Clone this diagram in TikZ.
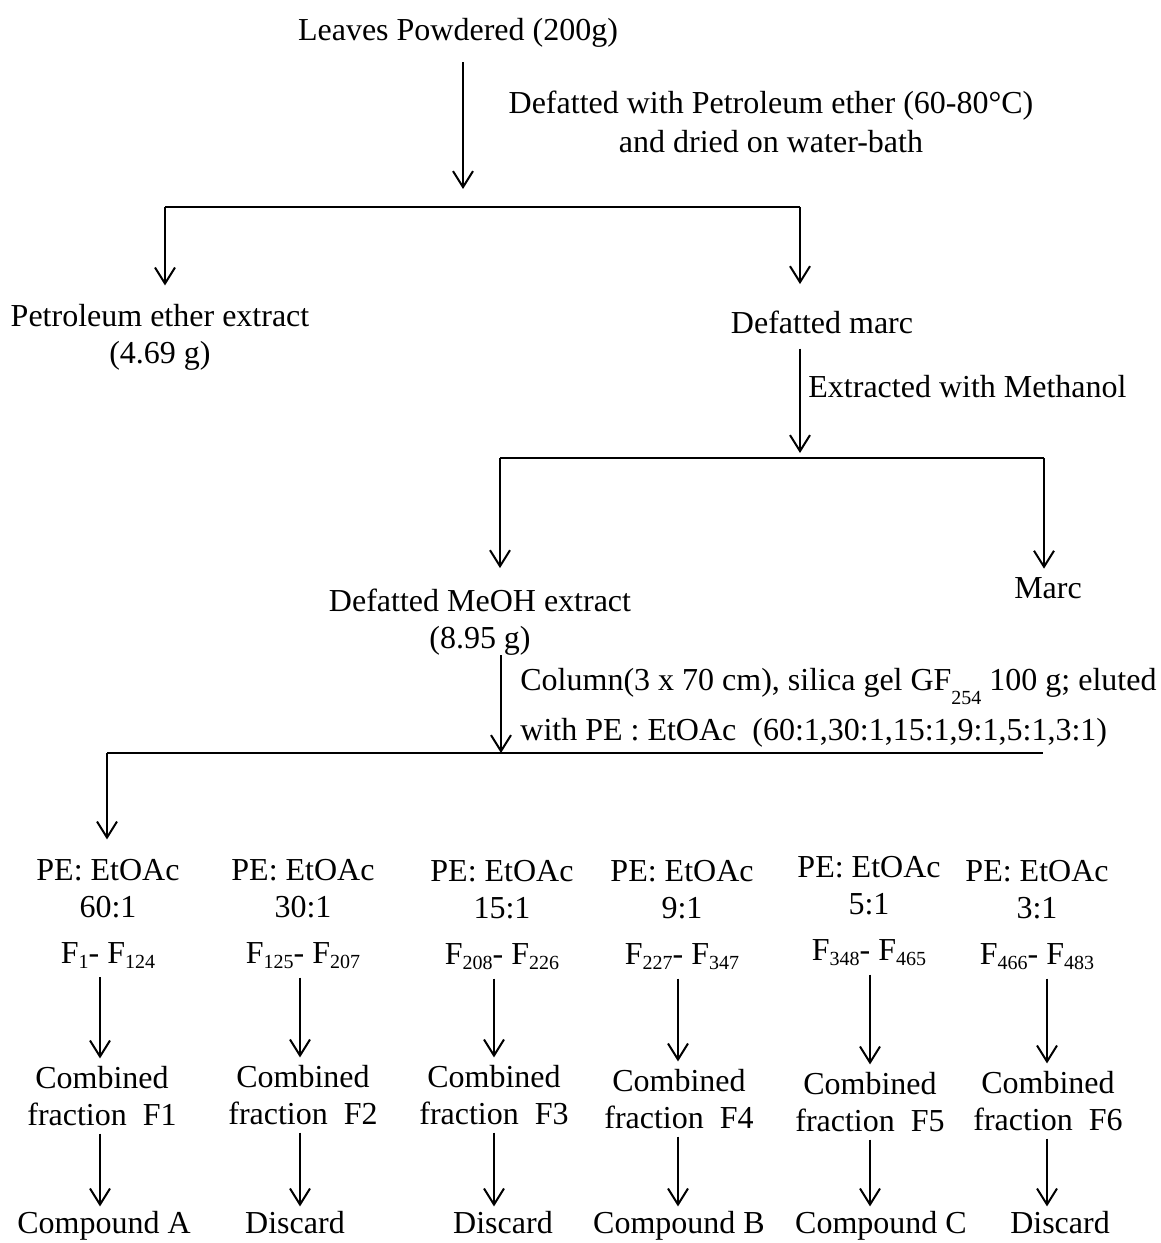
\documentclass[tikz,border=0pt]{standalone}
\usepackage{fontspec}
\setmainfont{Liberation Serif}
\usetikzlibrary{arrows.meta,positioning}
\tikzset{
  stage/.style={align=center,inner sep=0pt,anchor=base,font=\fontsize{16}{18.5}\selectfont},
  note/.style={align=left,inner sep=0pt,anchor=base west,font=\fontsize{16}{25}\selectfont},
  flow/.style={-{Straight Barb[length=8pt,width=10pt]},line width=1pt},
  rail/.style={line width=1pt}
}
\newcommand{\fsub}[1]{\raisebox{-2.5pt}{\fontsize{10}{10}\selectfont #1}}
\newcommand{\gfsub}[1]{\raisebox{-7pt}{\fontsize{10}{10}\selectfont #1}}

\begin{document}
\begin{tikzpicture}[x=0.5pt,y=-0.5pt]
  \useasboundingbox (0,0) rectangle (1161,1243);
  % extraction
  \node[stage] (leaves) at (458,40) {Leaves Powdered (200g)};
  \node[stage,font=\fontsize{16}{19.5}\selectfont] (defat) at (771,152) {Defatted with Petroleum ether (60-80°C)\\and dried on water-bath};
  \node[stage] (petext) at (160,363) {Petroleum ether extract\\(4.69 g)};
  \node[stage] (dmarc) at (822,333) {Defatted marc};
  \node[note] (meth) at (808,397) {Extracted with Methanol};
  \node[stage] (meoh) at (480,648) {Defatted MeOH extract\\(8.95 g)};
  \node[stage] (marc) at (1048,598) {Marc};
  \node[note] (column) at (520,740) {Column(3 x 70 cm), silica gel GF\gfsub{254} 100 g; eluted\\with PE : EtOAc\ \ (60:1,30:1,15:1,9:1,5:1,3:1)};
  \coordinate (j1) at (463,189);
  \coordinate (l1) at (165,207);
  \coordinate (r1) at (800,207);
  \coordinate (j2) at (800,453);
  \coordinate (l2) at (500,458);
  \coordinate (r2) at (1044,458);
  \coordinate (j3) at (501,753);
  \coordinate (l3) at (107,753);
  \coordinate (r3) at (1043,753);
  \draw[flow,shorten <=7.5pt] (leaves.south -| j1) -- (j1);
  \draw[rail] (l1) -- (r1);
  \draw[flow,shorten >=9pt] (l1) -- (petext.north -| l1);
  \draw[flow,shorten >=13pt] (r1) -- (dmarc.north -| r1);
  \draw[flow,shorten <=7.5pt] (dmarc.south -| j2) -- (j2);
  \draw[rail] (l2) -- (r2);
  \draw[flow,shorten >=10pt] (l2) -- (meoh.north -| l2);
  \draw[flow,shorten >=4pt] (r2) -- (marc.north -| r2);
  \draw[flow] (meoh.south -| j3) -- (j3);
  \draw[rail] (l3) -- (r3);
  % fractions
  \foreach \i/\xt/\xm/\xb/\xa/\dt/\dm/\rat/\fa/\fb/\res in {
    1/108/102/104/100/0/0/60:1/1/124/Compound A,
    2/303/303/295/300/0/-1/30:1/125/207/Discard,
    3/502/494/503/494/1/-1/15:1/208/226/Discard,
    4/682/679/679/678/1/3/9:1/227/347/Compound B,
    5/869/870/881/870/-3/6/5:1/348/465/Compound C,
    6/1037/1048/1060/1047/1/5/3:1/466/483/Discard}
  {
    \coordinate (a\i) at (\xa,0);
    \node[stage] (pe\i) at (\xt,{880+\dt}) {PE: EtOAc};
    \node[stage] (ra\i) at (\xt,{917+\dt}) {\rat};
    \node[stage] (fr\i) at (\xt,{963+\dt}) {F\fsub{\fa}- F\fsub{\fb}};
    \node[stage] (cb\i) at (\xm,{1125+\dm}) {Combined\\fraction\ \ F\i};
    \node[stage] (res\i) at (\xb,1233) {\res};
    \draw[flow,shorten <=4.5pt,shorten >=3.5pt] (fr\i.south -| a\i) -- (cb\i.north -| a\i);
    \draw[flow,shorten <=4pt,shorten >=2pt] (cb\i.south -| a\i) -- (res\i.north -| a\i);
  }
  \draw[flow,shorten >=9.5pt] (l3) -- (pe1.north -| l3);
\end{tikzpicture}
\end{document}
